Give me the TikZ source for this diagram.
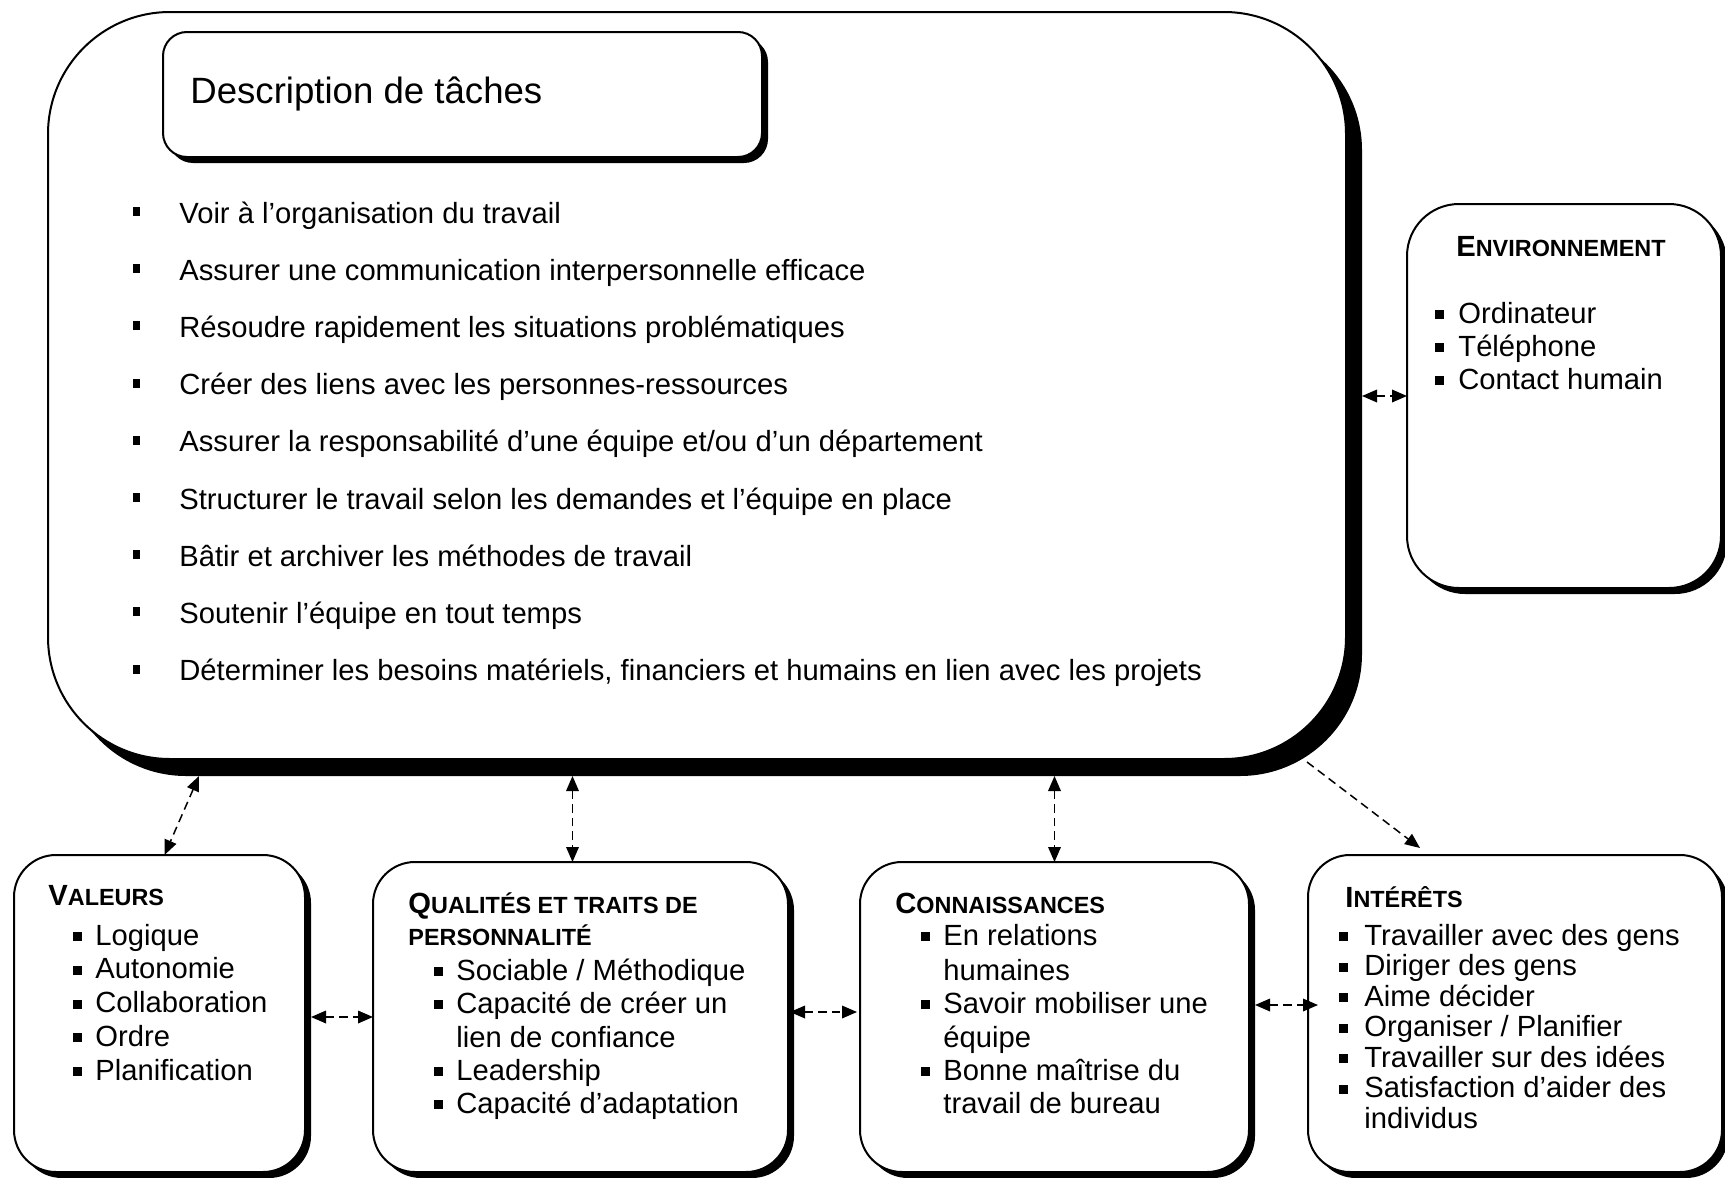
\documentclass[tikz,border=0pt]{standalone}
\usepackage{fontspec}
\setmainfont{Liberation Sans}
\usetikzlibrary{arrows.meta,calc,fit}
% square bullets: task list, and the smaller boxes
\newcommand\mb{\llap{\rule[3.5pt]{3.5pt}{4.5pt}\hspace{19.5pt}}}
\newcommand\bbul[1][6.5pt]{\llap{\rule[2pt]{4.5pt}{4.5pt}\hspace{#1}}}
% bold heading in small capitals: first letter full size, rest reduced
\newcommand\hd[2]{{\bfseries #1{\fontsize{11.7pt}{12pt}\selectfont #2}}}
\begin{document}
\begin{tikzpicture}[x=0.5pt,y=-0.5pt,
  font=\fontsize{14.6pt}{17pt}\selectfont,
  >={Triangle[length=7.5pt,width=6.3pt]},
  frame/.style={draw=black,line width=1pt,fill=white,rounded corners=#1,inner sep=0pt,outer sep=0pt},
  backing/.style={fill=black,rounded corners=#1,inner sep=0pt,outer sep=0pt},
  txt/.style={inner sep=0pt,anchor=base west},
  link/.style={draw=black,line width=0.75pt,dash pattern=on 4.2pt off 2.6pt,<->},
  linkone/.style={draw=black,line width=0.75pt,dash pattern=on 4.2pt off 2.6pt,->},
]
\useasboundingbox (0,0) rectangle (1725,1178);

% task description panel
\node[backing=61pt, fit={(64,28)(1362,776)}] (mainsh) {};
\node[frame=61pt, fit={(48,12)(1346,759)}] (main) {};
\node[backing=12pt, fit={(169,38)(768,163)}] (titlesh) {};
\node[frame=12pt, fit={(163,32)(762,157)}] (title) {};
\node[txt, font=\fontsize{18.3pt}{22pt}\selectfont] (titletext) at (190,103) {Description de tâches};

\foreach \t [count=\i] in {
  {Voir à l’organisation du travail},
  {Assurer une communication interpersonnelle efficace},
  {Résoudre rapidement les situations problématiques},
  {Créer des liens avec les personnes-ressources},
  {Assurer la responsabilité d’une équipe et/ou d’un département},
  {Structurer le travail selon les demandes et l’équipe en place},
  {Bâtir et archiver les méthodes de travail},
  {Soutenir l’équipe en tout temps},
  {Déterminer les besoins matériels, financiers et humains en lien avec les projets}}
  \node[txt] (task\i) at (179,{223+57.2*(\i-1)}) {\mb\t};

% environment
\node[backing=26pt, fit={(1413,210)(1727,594)}] (envsh) {};
\node[frame=26pt, fit={(1407,204)(1721,588)}] (env) {};
\node[inner sep=0pt, anchor=base] (envhead) at (1561,256) {\hd{E}{NVIRONNEMENT}};
\node[txt] (env1) at (1458,323) {\bbul[7pt]Ordinateur};
\node[txt] (env2) at (1458,356) {\bbul[7pt]Téléphone};
\node[txt] (env3) at (1458,389) {\bbul[7pt]Contact humain};

% values
\node[backing=21pt, fit={(20,861)(311,1178)}] (valsh) {};
\node[frame=21pt, fit={(14,855)(305,1172)}] (val) {};
\node[txt] (valhead) at (48,905) {\hd{V}{ALEURS}};
\node[txt] (val1) at (95,945) {\bbul Logique};
\node[txt] (val2) at (95,978.75) {\bbul Autonomie};
\node[txt] (val3) at (95,1012.5) {\bbul Collaboration};
\node[txt] (val4) at (95,1046.25) {\bbul Ordre};
\node[txt] (val5) at (95,1080) {\bbul Planification};

% qualities
\node[backing=21pt, fit={(379,868)(794,1178)}] (qualsh) {};
\node[frame=21pt, fit={(373,862)(788,1172)}] (qual) {};
\node[txt] (qualhead1) at (408,913) {\hd{Q}{UALITÉS ET TRAITS DE}};
\node[txt] (qualhead2) at (408,945) {\hd{}{PERSONNALITÉ}};
\node[txt] (qual1) at (456,980) {\bbul Sociable / Méthodique};
\node[txt] (qual2) at (456,1013) {\bbul Capacité de créer un};
\node[txt] (qual3) at (456,1047) {lien de confiance};
\node[txt] (qual4) at (456,1080) {\bbul Leadership};
\node[txt] (qual5) at (456,1113) {\bbul Capacité d’adaptation};

% knowledge
\node[backing=21pt, fit={(866,868)(1255,1178)}] (connsh) {};
\node[frame=21pt, fit={(860,862)(1249,1172)}] (conn) {};
\node[txt] (connhead) at (895,913) {\hd{C}{ONNAISSANCES}};
\node[txt] (conn1) at (943,945) {\bbul En relations};
\node[txt] (conn2) at (943,980) {humaines};
\node[txt] (conn3) at (943,1013) {\bbul Savoir mobiliser une};
\node[txt] (conn4) at (943,1047) {équipe};
\node[txt] (conn5) at (943,1080) {\bbul Bonne maîtrise du};
\node[txt] (conn6) at (943,1113) {travail de bureau};

% interests
\node[backing=21pt, fit={(1314,861)(1728,1178)}] (intsh) {};
\node[frame=21pt, fit={(1308,855)(1722,1172)}] (int) {};
\node[txt] (inthead) at (1345,907) {\hd{I}{NTÉRÊTS}};
\node[txt] (int1) at (1364,945) {\bbul[8pt]Travailler avec des gens};
\node[txt] (int2) at (1364,975.5) {\bbul[8pt]Diriger des gens};
\node[txt] (int3) at (1364,1006) {\bbul[8pt]Aime décider};
\node[txt] (int4) at (1364,1036.5) {\bbul[8pt]Organiser / Planifier};
\node[txt] (int5) at (1364,1067) {\bbul[8pt]Travailler sur des idées};
\node[txt] (int6) at (1364,1097.5) {\bbul[8pt]Satisfaction d’aider des};
\node[txt] (int7) at (1364,1128) {individus};

% connectors
\coordinate (qtop) at ($(qual.north)+(-8,0)$);
\coordinate (mcorner) at (1307,762);
\draw[link] ($(mainsh.south west)+(135,0)$) -- ($(val.north)+(5,0)$);
\draw[link] (qtop |- mainsh.south) -- (qtop);
\draw[link] (conn.north |- mainsh.south) -- (conn.north);
\draw[linkone] (mcorner) -- ($(int.north west)+(112,-7)$);
\draw[link] (env.west -| mainsh.east) -- (env.west);
\draw[link] ($(val.east)+(6,3.5)$) -- (qual.west);
\draw[link] ($(qual.east)+(2,-5)$) -- ($(conn.west)+(-3,-5)$);
\draw[link] ($(conn.east)+(6,-12)$) -- ($(int.west)+(10,-8.5)$);
\end{tikzpicture}
\end{document}
